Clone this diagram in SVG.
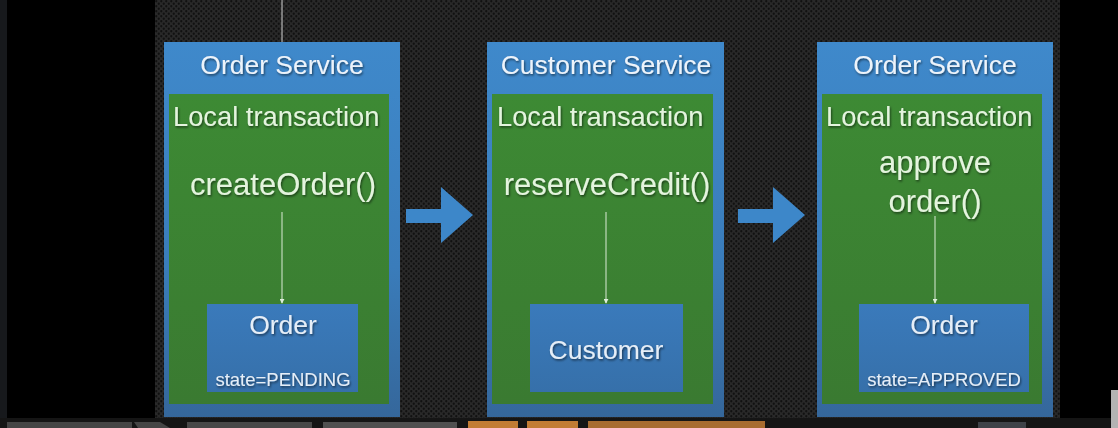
<svg xmlns="http://www.w3.org/2000/svg" width="1118" height="428" viewBox="0 0 1118 428">
  <defs>
    <pattern id="mesh" width="5" height="5" patternUnits="userSpaceOnUse">
      <rect width="5" height="5" fill="#292929"/>
      <circle cx="1.25" cy="1.25" r="1.15" fill="#111"/>
      <circle cx="3.75" cy="3.75" r="1.15" fill="#111"/>
    </pattern>
    <linearGradient id="gBlue" x1="0" y1="42" x2="0" y2="417" gradientUnits="userSpaceOnUse">
      <stop offset="0" stop-color="#3f89cb"/>
      <stop offset="0.6" stop-color="#3a7cba"/>
      <stop offset="1" stop-color="#35679b"/>
    </linearGradient>
    <linearGradient id="gGreen" x1="0" y1="94" x2="0" y2="404" gradientUnits="userSpaceOnUse">
      <stop offset="0" stop-color="#3d8a34"/>
      <stop offset="1" stop-color="#3a7a31"/>
    </linearGradient>
    <linearGradient id="gInner" x1="0" y1="304" x2="0" y2="392" gradientUnits="userSpaceOnUse">
      <stop offset="0" stop-color="#3a7abb"/>
      <stop offset="1" stop-color="#3670aa"/>
    </linearGradient>
    <filter id="shadow" x="-10%" y="-30%" width="120%" height="160%">
      <feDropShadow dx="1" dy="1.5" stdDeviation="1" flood-color="#000" flood-opacity="0.55"/>
    </filter>
    <marker id="tip" viewBox="0 0 6 6" refX="5" refY="3" markerWidth="5" markerHeight="5" orient="auto">
      <path d="M0,0 L6,3 L0,6 z" fill="#dfeedd"/>
    </marker>
    <style>
      text { font-family: "Liberation Sans", Arial, sans-serif; filter: url(#shadow); }
      .outer { fill: url(#gBlue); }
      .green { fill: url(#gGreen); }
      .inner { fill: url(#gInner); }
      .hdr { font-size: 26.5px; fill: #edf3fa; text-anchor: middle; }
      .lt { font-size: 27.3px; fill: #e4f4de; }
      .fn { font-size: 31px; fill: #e4f4de; text-anchor: middle; }
      .ent { font-size: 26.5px; fill: #e6eef7; text-anchor: middle; }
      .st { font-size: 18.5px; fill: #e6eef7; text-anchor: middle; }
      .link { stroke: #dbead6; stroke-width: 1; fill: none; marker-end: url(#tip); }
      .block { fill: #3d87c9; }
    </style>
  </defs>

  <!-- background -->
  <rect x="0" y="0" width="1118" height="428" fill="#000"/>
  <rect x="155" y="0" width="905" height="420" fill="url(#mesh)"/>
  <rect x="0" y="0" width="7" height="420" fill="#17191c"/>

  <!-- bottom strip -->
  <g id="bottom-strip">
    <rect x="0" y="418" width="1118" height="10" fill="#151515"/>
    <rect x="7" y="422" width="125" height="6" fill="#454545"/>
    <polygon points="134,422 160,422 170,428 138,428" fill="#454545"/>
    <rect x="187" y="422" width="125" height="6" fill="#484848"/>
    <rect x="323" y="422" width="134" height="6" fill="#505050"/>
    <rect x="468" y="421" width="50" height="7" fill="#c27c34"/>
    <rect x="527" y="421" width="51" height="7" fill="#c27c34"/>
    <rect x="588" y="421" width="177" height="7" fill="#a86c30"/>
    <rect x="978" y="422" width="48" height="6" fill="#3e4248"/>
    <rect x="1111" y="390" width="7" height="38" fill="#b3b3b3"/>
  </g>

  <!-- node 1 -->
  <g id="order-service-1">
    <rect class="outer" x="164" y="42" width="236" height="375"/>
    <text class="hdr" x="282" y="74">Order Service</text>
    <rect class="green" x="169" y="94" width="220" height="310"/>
    <text class="lt" x="173" y="126">Local transaction</text>
    <text class="fn" x="283" y="195">createOrder()</text>
    <g id="order-pending">
      <rect class="inner" x="207" y="304" width="151" height="88"/>
      <text class="ent" x="283" y="334">Order</text>
      <text class="st" x="283" y="386">state=PENDING</text>
    </g>
  </g>

  <!-- node 2 -->
  <g id="customer-service">
    <rect class="outer" x="487" y="42" width="237" height="375"/>
    <text class="hdr" x="606" y="74">Customer Service</text>
    <rect class="green" x="492" y="94" width="221" height="310"/>
    <text class="lt" x="497" y="126">Local transaction</text>
    <text class="fn" x="607" y="195">reserveCredit()</text>
    <g id="customer">
      <rect class="inner" x="530" y="304" width="153" height="88"/>
      <text class="ent" x="606" y="359">Customer</text>
    </g>
  </g>

  <!-- node 3 -->
  <g id="order-service-2">
    <rect class="outer" x="817" y="42" width="236" height="375"/>
    <text class="hdr" x="935" y="74">Order Service</text>
    <rect class="green" x="822" y="94" width="220" height="310"/>
    <text class="lt" x="826" y="126">Local transaction</text>
    <text class="fn" x="935" y="173">approve</text>
    <text class="fn" x="935" y="212">order()</text>
    <g id="order-approved">
      <rect class="inner" x="859" y="304" width="170" height="88"/>
      <text class="ent" x="944" y="334">Order</text>
      <text class="st" x="944" y="386">state=APPROVED</text>
    </g>
  </g>

  <!-- connectors -->
  <g id="connectors">
    <line x1="282" y1="0" x2="282" y2="42" stroke="#d0d0d0" stroke-width="1"/>
    <line class="link" x1="282" y1="212" x2="282" y2="303"/>
    <line class="link" x1="606" y1="212" x2="606" y2="303"/>
    <line class="link" x1="935" y1="216" x2="935" y2="303"/>
    <polygon class="block" points="406,209 441,209 441,187 473,215 441,243 441,223 406,223"/>
    <polygon class="block" points="738,209 773,209 773,187 805,215 773,243 773,223 738,223"/>
  </g>
</svg>
